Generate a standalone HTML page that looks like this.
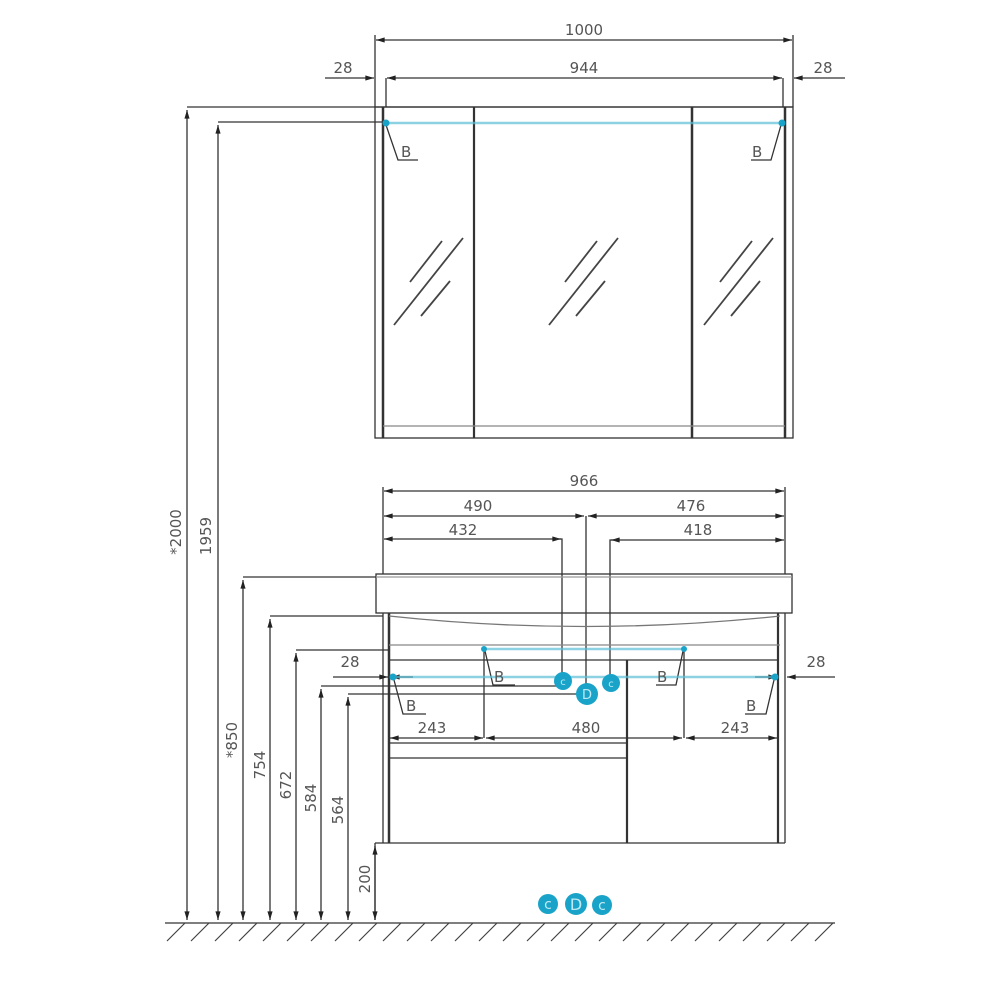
<!DOCTYPE html>
<html><head><meta charset="utf-8"><style>
html,body{margin:0;padding:0;background:#fff}
svg{display:block}
text{font-family:"DejaVu Sans","Liberation Sans",sans-serif;fill:#555;font-size:15px}
</style></head><body>
<svg width="1000" height="1000" viewBox="0 0 1000 1000" xmlns="http://www.w3.org/2000/svg">
<defs>
<marker id="a" viewBox="0 0 10 6" refX="10" refY="3" markerWidth="8" markerHeight="4" orient="auto-start-reverse"><path d="M0,0L10,3L0,6z" fill="#222"/></marker>
</defs>
<g stroke="#333" stroke-width="1.3" fill="none">
<line x1="375" y1="35" x2="375" y2="107"/><line x1="793" y1="35" x2="793" y2="107"/>
<line x1="386" y1="78" x2="386" y2="107"/><line x1="783" y1="78" x2="783" y2="107"/>
<line x1="376" y1="40" x2="792" y2="40" marker-start="url(#a)" marker-end="url(#a)"/>
<line x1="387" y1="78" x2="782" y2="78" marker-start="url(#a)" marker-end="url(#a)"/>
<line x1="325" y1="78" x2="374" y2="78" marker-end="url(#a)"/>
<line x1="845" y1="78" x2="794" y2="78" marker-end="url(#a)"/>
<line x1="187" y1="107" x2="793" y2="107"/>
<line x1="218" y1="122" x2="383" y2="122"/>
<rect x="375" y="107" width="418" height="331"/>
<line x1="383" y1="107" x2="383" y2="438" stroke-width="2.5"/>
<line x1="474" y1="107" x2="474" y2="438" stroke-width="2.2"/>
<line x1="692" y1="107" x2="692" y2="438" stroke-width="2.5"/>
<line x1="785" y1="107" x2="785" y2="438" stroke-width="2.5"/>
<line x1="383" y1="426" x2="785" y2="426" stroke="#888"/>
<g stroke="#444" stroke-width="1.8">
<line x1="410" y1="282" x2="442" y2="241"/><line x1="394" y1="325" x2="463" y2="238"/><line x1="421" y1="316" x2="450" y2="281"/>
<line x1="565" y1="282" x2="597" y2="241"/><line x1="549" y1="325" x2="618" y2="238"/><line x1="576" y1="316" x2="605" y2="281"/>
<line x1="720" y1="282" x2="752" y2="241"/><line x1="704" y1="325" x2="773" y2="238"/><line x1="731" y1="316" x2="760" y2="281"/>
</g>
<line x1="383" y1="487" x2="383" y2="574"/><line x1="785" y1="487" x2="785" y2="574"/>
<line x1="384" y1="491" x2="784" y2="491" marker-start="url(#a)" marker-end="url(#a)"/>
<line x1="384" y1="516" x2="584" y2="516" marker-start="url(#a)" marker-end="url(#a)"/>
<line x1="588" y1="516" x2="784" y2="516" marker-start="url(#a)" marker-end="url(#a)"/>
<line x1="384" y1="539" x2="561" y2="539" marker-start="url(#a)" marker-end="url(#a)"/>
<line x1="611" y1="540" x2="784" y2="540" marker-start="url(#a)" marker-end="url(#a)"/>
<polyline points="556,539 562,539 562,678"/>
<line x1="586" y1="516" x2="586" y2="690"/>
<polyline points="616,540 610,540 610,680"/>
<rect x="376" y="574" width="416" height="39"/>
<line x1="376" y1="577" x2="792" y2="577" stroke="#999"/>
<line x1="383" y1="613" x2="383" y2="843"/><line x1="389" y1="613" x2="389" y2="843" stroke-width="2.5"/>
<line x1="785" y1="613" x2="785" y2="843"/><line x1="778" y1="613" x2="778" y2="843" stroke-width="2.2"/>
<line x1="375" y1="843" x2="785" y2="843"/>
<line x1="375" y1="843" x2="375" y2="920"/>
<path d="M389,616 Q585,637 780,616" stroke="#777"/>
<line x1="389" y1="645" x2="780" y2="645" stroke="#888"/>
<line x1="296" y1="650" x2="389" y2="650"/>
<line x1="389" y1="660" x2="778" y2="660"/>
<line x1="627" y1="660" x2="627" y2="843" stroke-width="2.2"/>
<line x1="389" y1="743" x2="627" y2="743"/>
<line x1="389" y1="758" x2="627" y2="758"/>
<line x1="484" y1="649" x2="484" y2="738"/><line x1="684" y1="649" x2="684" y2="738"/>
<line x1="390" y1="738" x2="483" y2="738" marker-start="url(#a)" marker-end="url(#a)"/>
<line x1="486" y1="738" x2="682" y2="738" marker-start="url(#a)" marker-end="url(#a)"/>
<line x1="686" y1="738" x2="777" y2="738" marker-start="url(#a)" marker-end="url(#a)"/>
<line x1="333" y1="677" x2="388" y2="677" marker-end="url(#a)"/>
<line x1="413" y1="677" x2="391" y2="677" marker-end="url(#a)"/>
<line x1="835" y1="677" x2="787" y2="677" marker-end="url(#a)"/>
<line x1="755" y1="677" x2="777" y2="677" marker-end="url(#a)"/>
<line x1="321" y1="686" x2="562" y2="686"/>
<line x1="348" y1="694" x2="580" y2="694"/>
<line x1="270" y1="616" x2="383" y2="616"/>
<line x1="243" y1="577" x2="376" y2="577"/>
<polyline points="386,125 398,160 418,160"/>
<polyline points="781,125 771,160 751,160"/>
<polyline points="485,651 493,685 515,685"/>
<polyline points="683,651 676,685 656,685"/>
<polyline points="394,680 403,714 426,714"/>
<polyline points="774,680 766,714 745,714"/>
<line x1="187" y1="920" x2="187" y2="110" marker-start="url(#a)" marker-end="url(#a)"/>
<line x1="218" y1="920" x2="218" y2="125" marker-start="url(#a)" marker-end="url(#a)"/>
<line x1="243" y1="920" x2="243" y2="580" marker-start="url(#a)" marker-end="url(#a)"/>
<line x1="270" y1="920" x2="270" y2="619" marker-start="url(#a)" marker-end="url(#a)"/>
<line x1="296" y1="920" x2="296" y2="653" marker-start="url(#a)" marker-end="url(#a)"/>
<line x1="321" y1="920" x2="321" y2="689" marker-start="url(#a)" marker-end="url(#a)"/>
<line x1="348" y1="920" x2="348" y2="697" marker-start="url(#a)" marker-end="url(#a)"/>
<line x1="375" y1="920" x2="375" y2="846" marker-start="url(#a)" marker-end="url(#a)"/>
<line x1="165" y1="923" x2="835" y2="923"/>
</g>
<g stroke="#444" stroke-width="1.2">
<path d="M185,923l-18,18M209,923l-18,18M233,923l-18,18M257,923l-18,18M281,923l-18,18M305,923l-18,18M329,923l-18,18M353,923l-18,18M377,923l-18,18M401,923l-18,18M425,923l-18,18M449,923l-18,18M473,923l-18,18M497,923l-18,18M521,923l-18,18M545,923l-18,18M569,923l-18,18M593,923l-18,18M617,923l-18,18M641,923l-18,18M665,923l-18,18M689,923l-18,18M713,923l-18,18M737,923l-18,18M761,923l-18,18M785,923l-18,18M809,923l-18,18M833,923l-18,18"/>
</g>
<g stroke="#5bbfd6" stroke-width="2.5" fill="#1aa3c8">
<line x1="386" y1="123" x2="782" y2="123" stroke-opacity="0.7"/>
<line x1="484" y1="649" x2="684" y2="649" stroke-opacity="0.7"/>
<line x1="393" y1="677" x2="775" y2="677" stroke-opacity="0.7"/>
<circle cx="386" cy="123" r="3.5" stroke="none"/><circle cx="782" cy="123" r="3.5" stroke="none"/>
<circle cx="484" cy="649" r="3" stroke="none"/><circle cx="684" cy="649" r="3" stroke="none"/>
<circle cx="393" cy="677" r="3.5" stroke="none"/><circle cx="775" cy="677" r="3.5" stroke="none"/>
</g>
<g fill="#1aa3c8">
<circle cx="563" cy="681" r="9"/><circle cx="611" cy="683" r="9"/><circle cx="587" cy="694" r="11"/>
<circle cx="548" cy="904" r="10"/><circle cx="576" cy="904" r="11"/><circle cx="602" cy="905" r="10"/>
</g>
<g style="font-size:11px" text-anchor="middle">
<text x="563" y="685" style="fill:#bfeaf5;font-size:10px">c</text>
<text x="611" y="687" style="fill:#bfeaf5;font-size:10px">c</text>
<text x="587" y="699" style="fill:#bfeaf5;font-size:13px">D</text>
<text x="548" y="909" style="fill:#bfeaf5;font-size:14px">c</text>
<text x="576" y="910" style="fill:#bfeaf5;font-size:16px">D</text>
<text x="602" y="910" style="fill:#bfeaf5;font-size:14px">c</text>
</g>
<g text-anchor="middle">
<text x="584" y="35">1000</text>
<text x="584" y="73">944</text>
<text x="343" y="73">28</text>
<text x="823" y="73">28</text>
<text x="584" y="486">966</text>
<text x="478" y="511">490</text>
<text x="691" y="511">476</text>
<text x="463" y="535">432</text>
<text x="698" y="535">418</text>
<text x="350" y="667">28</text>
<text x="816" y="667">28</text>
<text x="432" y="733">243</text>
<text x="586" y="733">480</text>
<text x="735" y="733">243</text>
</g>
<g style="font-size:19px">
<text x="401" y="157">B</text><text x="752" y="157">B</text>
<text x="494" y="682">B</text><text x="657" y="682">B</text>
<text x="406" y="711">B</text><text x="746" y="711">B</text>
</g>
<g text-anchor="middle">
<text transform="translate(181,532) rotate(-90)">*2000</text>
<text transform="translate(211,536) rotate(-90)">1959</text>
<text transform="translate(237,740) rotate(-90)">*850</text>
<text transform="translate(265,765) rotate(-90)">754</text>
<text transform="translate(291,785) rotate(-90)">672</text>
<text transform="translate(316,798) rotate(-90)">584</text>
<text transform="translate(343,810) rotate(-90)">564</text>
<text transform="translate(370,879) rotate(-90)">200</text>
</g>
</svg>
</body></html>
